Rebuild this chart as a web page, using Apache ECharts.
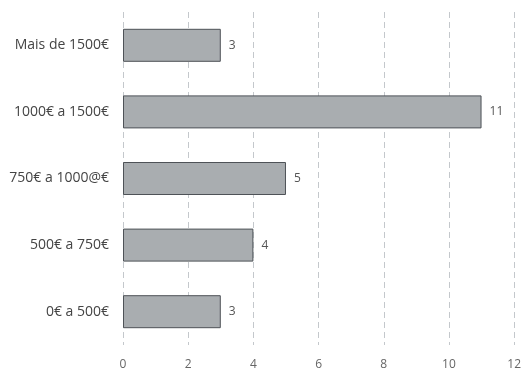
<!DOCTYPE html>
<html>
<head>
<meta charset="utf-8">
<script src="https://cdn.jsdelivr.net/npm/echarts@6/dist/echarts.min.js"></script>
<style>
  html, body { margin: 0; padding: 0; background: #ffffff; }
  #chart { width: 524px; height: 374px; }
</style>
</head>
<body>
<div id="chart"></div>
<script>
// Income brackets, listed bottom to top
const categories = ['0€ a 500€', '500€ a 750€', '750€ a 1000@€', '1000€ a 1500€', 'Mais de 1500€'];
const counts = [3, 4, 5, 11, 3];
const xTicks = [0, 2, 4, 6, 8, 10, 12];

const chart = echarts.init(document.getElementById('chart'));
chart.setOption({
  animation: false,
  backgroundColor: '#ffffff',
  grid: { left: 123, right: 9, top: 12, bottom: 29 },
  xAxis: {
    type: 'value',
    min: xTicks[0],
    max: xTicks[xTicks.length - 1],
    interval: 2,
    axisLine: { show: false },
    axisTick: { show: false },
    axisLabel: { color: '#666', fontSize: 12, fontFamily: 'Open Sans', margin: 14 },
    splitLine: { show: true, lineStyle: { color: '#c4c8cc', type: [6, 4], width: 1 } }
  },
  yAxis: {
    type: 'category',
    data: categories,
    axisLine: { show: false },
    axisTick: { show: false },
    axisLabel: { color: '#444', fontSize: 14, fontFamily: 'Open Sans', margin: 14 }
  },
  series: [{
    type: 'bar',
    data: counts,
    barWidth: 33,
    itemStyle: { color: '#a9adb0', borderColor: '#4e5257', borderWidth: 1 },
    label: { show: true, position: 'right', distance: 8, color: '#555', fontSize: 12, fontFamily: 'Open Sans' }
  }]
});
</script>
</body>
</html>
